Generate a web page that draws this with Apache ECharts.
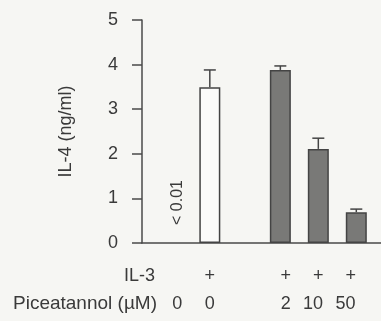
<!DOCTYPE html>
<html>
<head>
<meta charset="utf-8">
<script src="https://cdn.jsdelivr.net/npm/echarts@6/dist/echarts.min.js"></script>
<style>
html,body{margin:0;padding:0;background:#f6f6f3;}
#chart{width:381px;height:321px;}
</style>
</head>
<body>
<div id="chart"></div>
<script>
// ---- data ----
const groups = ['No IL-3', 'IL-3', 'IL-3 + 2 µM', 'IL-3 + 10 µM', 'IL-3 + 50 µM'];
const il4Mean = [0, 3.49, 3.88, 2.11, 0.69];
const il4Upper = [null, 3.88, 3.97, 2.35, 0.76];
const il3Row = ['', '+', '+', '+', '+'];
const piceatannolRow = ['0', '0', '2', '10', '50'];
const yTicks = [0, 1, 2, 3, 4, 5];
const belowDetection = '< 0.01';

// ---- layout (slot positions along a fine category axis) ----
const SLOTS = 44;
const barSlot = [6, 12, 25, 32, 39];
const il3Slot = [6, 12, 26, 32, 38];
const piceSlot = [6, 12, 26, 31, 37];

const slotNames = Array.from({length: SLOTS}, (_, i) => String(i));
function rowLabels(slots, texts) {
  const arr = new Array(SLOTS).fill('');
  slots.forEach((s, k) => { arr[s] = texts[k]; });
  return arr;
}
const il3Labels = rowLabels(il3Slot, il3Row);
const piceLabels = rowLabels(piceSlot, piceatannolRow);

const barData = new Array(SLOTS).fill(null);
groups.forEach((g, k) => {
  const item = {
    value: il4Mean[k],
    itemStyle: k === 1 ? {color: '#fbfbfa'} : {color: '#797977'}
  };
  if (k === 0) {
    item.itemStyle = {color: 'rgba(0,0,0,0)', borderWidth: 0};
    item.label = {
      show: true, formatter: belowDetection, rotate: 90, position: 'top',
      distance: 18, align: 'left', verticalAlign: 'middle',
      fontSize: 16, color: '#3a3a3a', fontFamily: 'Liberation Sans'
    };
  }
  barData[barSlot[k]] = item;
});
const errData = [];
groups.forEach((g, k) => {
  if (il4Upper[k] != null) errData.push([barSlot[k], il4Mean[k], il4Upper[k]]);
});

const font = 'Liberation Sans';
const txt = '#3a3a3a';
const axisCol = '#4a4a4a';

const chart = echarts.init(document.getElementById('chart'));
chart.setOption({
  backgroundColor: '#f6f6f3',
  animation: false,
  grid: {left: 142, right: 0, top: 20, bottom: 78, containLabel: false},
  xAxis: [
    {
      type: 'category', data: slotNames, position: 'bottom',
      axisLine: {lineStyle: {color: axisCol, width: 1.5}},
      axisTick: {show: false}, axisLabel: {show: false}, splitLine: {show: false}
    },
    {
      type: 'category', data: il3Labels, position: 'bottom', offset: 33,
      axisLine: {show: false}, axisTick: {show: false},
      axisLabel: {interval: 0, margin: 0, verticalAlign: 'middle', fontSize: 18, color: txt, fontFamily: font},
      name: 'IL-3', nameLocation: 'start', nameGap: -13,
      nameTextStyle: {fontSize: 18, color: txt, fontFamily: font, align: 'right', verticalAlign: 'middle'}
    },
    {
      type: 'category', data: piceLabels, position: 'bottom', offset: 61,
      axisLine: {show: false}, axisTick: {show: false},
      axisLabel: {interval: 0, margin: 0, verticalAlign: 'middle', fontSize: 18, color: txt, fontFamily: font},
      name: 'Piceatannol (µM)', nameLocation: 'start', nameGap: -15,
      nameTextStyle: {fontSize: 19, color: txt, fontFamily: font, align: 'right', verticalAlign: 'middle'}
    }
  ],
  yAxis: {
    type: 'value', min: yTicks[0], max: yTicks[yTicks.length - 1], interval: 1,
    axisLine: {show: true, lineStyle: {color: axisCol, width: 1.5}},
    axisTick: {show: true, length: 10, lineStyle: {color: axisCol, width: 1.5}},
    axisLabel: {margin: 24, fontSize: 18, color: txt, fontFamily: font},
    splitLine: {show: false},
    name: 'IL-4 (ng/ml)', nameLocation: 'middle', nameGap: 67,
    nameTextStyle: {fontSize: 18, color: txt, fontFamily: font}
  },
  series: [
    {
      type: 'bar', xAxisIndex: 0, data: barData, barWidth: 21,
      itemStyle: {borderColor: '#444', borderWidth: 1.5}
    },
    {
      type: 'custom', xAxisIndex: 0, data: errData, z: 1,
      renderItem: function (params, api) {
        const x = api.value(0);
        const p0 = api.coord([x, api.value(1)]);
        const p1 = api.coord([x, api.value(2)]);
        const st = {stroke: '#444', lineWidth: 1.5};
        return {type: 'group', children: [
          {type: 'line', shape: {x1: p0[0], y1: p0[1], x2: p1[0], y2: p1[1]}, style: st},
          {type: 'line', shape: {x1: p1[0] - 6, y1: p1[1], x2: p1[0] + 6, y2: p1[1]}, style: st}
        ]};
      }
    }
  ]
});
</script>
</body>
</html>
